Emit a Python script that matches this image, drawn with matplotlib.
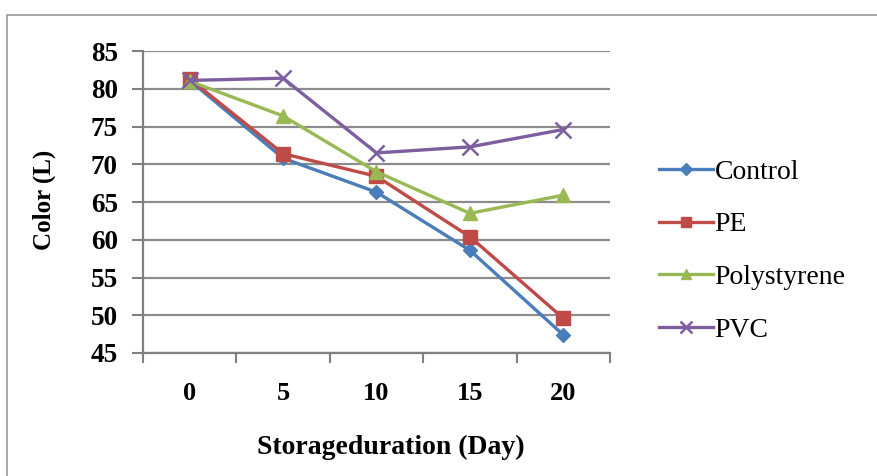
import matplotlib.pyplot as plt
from matplotlib.patches import Rectangle

# Colour (L) values over storage time for each packaging
days = ['0', '5', '10', '15', '20']
control = [81.1, 70.8, 66.3, 58.6, 47.4]
pe = [81.3, 71.4, 68.4, 60.4, 49.6]
polystyrene = [81.0, 76.4, 69.0, 63.5, 65.9]
pvc = [81.1, 81.4, 71.5, 72.3, 74.6]

plt.rcParams['font.family'] = ['Liberation Serif', 'DejaVu Serif']

fig = plt.figure(figsize=(8.78, 4.76), dpi=100)
fig.patches.append(Rectangle((7 / 878, -0.1), 1.1, 1 - 15 / 476 + 0.1,
                             transform=fig.transFigure, fill=False,
                             edgecolor='#9a9a9a', linewidth=1.2))

ax = fig.add_axes([143 / 878, 1 - 353 / 476, (610 - 143) / 878, (353 - 51) / 476])

x = list(range(len(days)))
ax.plot(x, control, color='#4a7ebb', lw=2.4, marker='D', ms=7.5, label='Control')
ax.plot(x, pe, color='#be4b48', lw=2.4, marker='s', ms=10, label='PE')
ax.plot(x, polystyrene, color='#98b954', lw=2.4, marker='^', ms=10, label='Polystyrene')
ax.plot(x, pvc, color='#7d5fa0', lw=2.4, marker='x', ms=11, mew=1.8, label='PVC')

ax.set_ylim(45, 85)
ax.set_yticks(range(45, 90, 5))
ax.set_xlim(-0.5, 4.5)
ax.set_xticks([i - 0.5 for i in range(len(days) + 1)])
ax.set_xticklabels([])
ax.set_xticks(x, minor=True)
ax.set_xticklabels(days, minor=True)
ax.tick_params(axis='x', which='minor', length=0, pad=21, labelsize=19)
ax.tick_params(axis='x', which='major', length=7, width=1.5, color='#808080')
ax.tick_params(axis='y', length=8, width=1.5, color='#808080', pad=10, labelsize=19.5)
for lab in ax.get_xticklabels(minor=True) + ax.get_yticklabels():
    lab.set_fontweight('bold')

ax.grid(axis='y', color='#8c8c8c', lw=1.6)
ax.set_axisbelow(True)
for side in ['top', 'right']:
    ax.spines[side].set_visible(False)
for side in ['left', 'bottom']:
    ax.spines[side].set_color('#808080')
    ax.spines[side].set_linewidth(1.6)

fig.text(391 / 878, 1 - 447 / 476, 'Storageduration (Day)', fontsize=20,
         fontweight='bold', ha='center', va='center')
fig.text(44 / 878, 1 - 200 / 476, 'Color (L)', fontsize=18, fontweight='bold',
         rotation=90, ha='center', va='center')

fig.legend(loc='center left', bbox_to_anchor=(634 / 878, 1 - 251 / 476),
           frameon=False, fontsize=20, handlelength=1.95, handletextpad=0.05,
           labelspacing=0.98, markerscale=0.75)

fig.savefig('out.png', dpi=100)
